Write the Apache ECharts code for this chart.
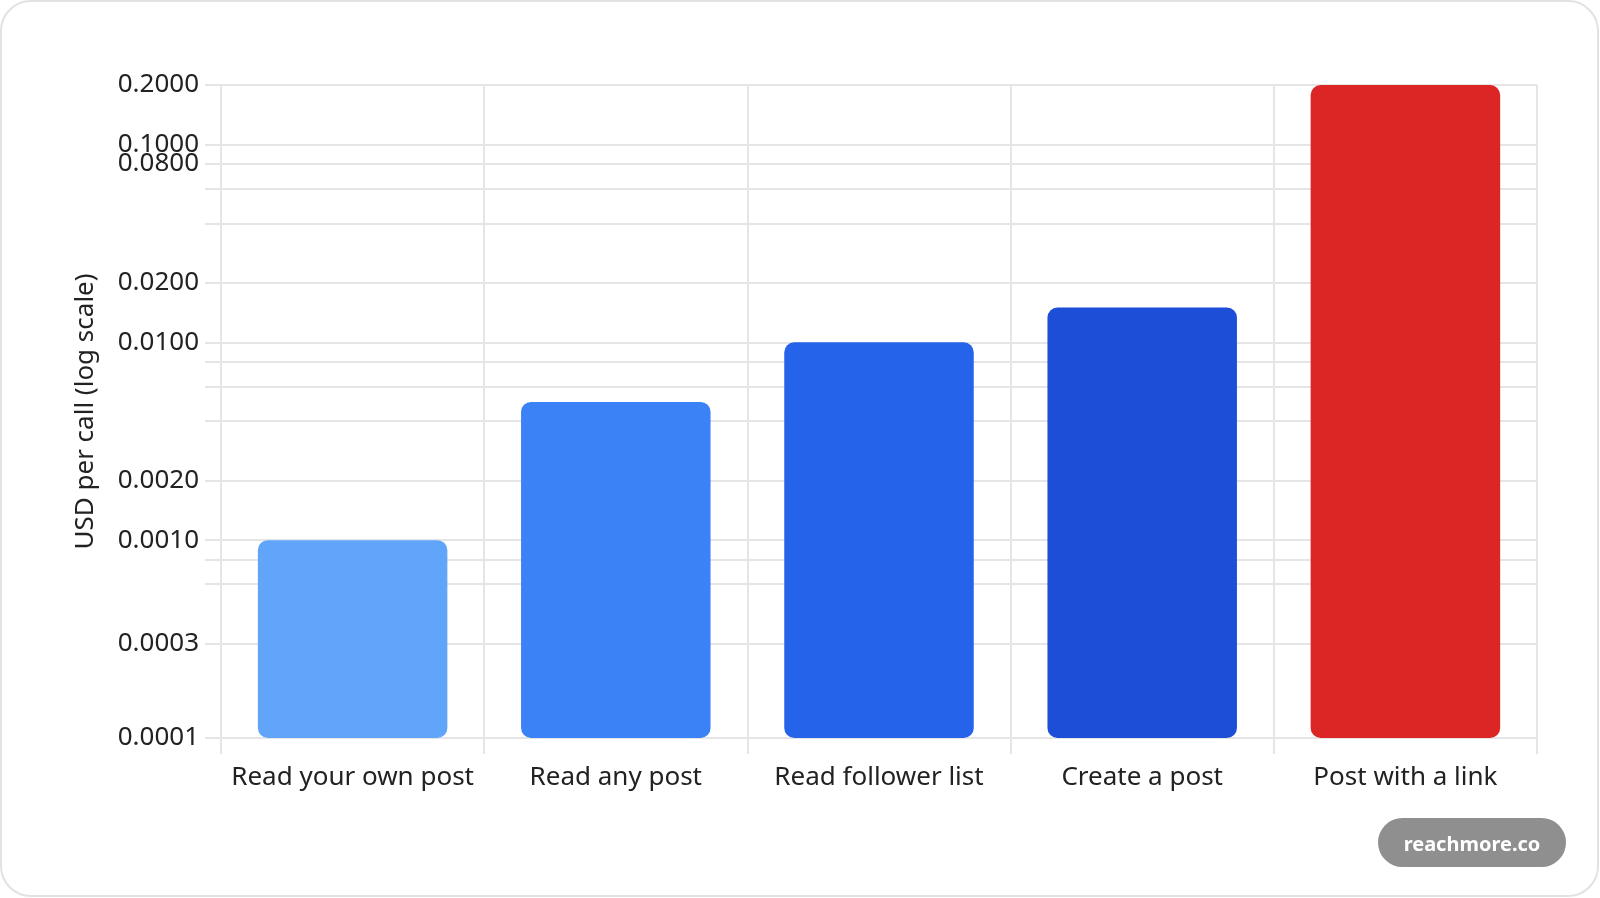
<!DOCTYPE html>
<html>
<head>
<meta charset="utf-8">
<script src="https://cdn.jsdelivr.net/npm/echarts@6/dist/echarts.min.js"></script>
<style>
  html, body { margin: 0; padding: 0; background: #fff; }
  #chart { width: 1600px; height: 898px; }
</style>
</head>
<body>
<div id="chart"></div>
<script>
// 数据
var categories = ['Read your own post', 'Read any post', 'Read follower list', 'Create a post', 'Post with a link'];
var costs = [0.001, 0.005, 0.01, 0.015, 0.2];
var barColors = ['#60a5fa', '#3b82f6', '#2563eb', '#1d4ed8', '#dc2626'];
// 网格线与刻度标签
var gridValues = [0.0001, 0.0003, 0.0006, 0.0008, 0.001, 0.002, 0.004, 0.006, 0.008, 0.01, 0.02, 0.04, 0.06, 0.08, 0.1, 0.2];
var labelValues = [0.0001, 0.0003, 0.001, 0.002, 0.01, 0.02, 0.08, 0.1, 0.2];
var yMin = 0.0001;
var yMax = 0.2;

var font = '"Noto Sans", "Open Sans", sans-serif';
var gridColor = '#e5e5e5';

var chart = echarts.init(document.getElementById('chart'));

// 对数轴上的柱子从最小值开始画（ECharts 默认从 1 开始）
function renderBar(params, api) {
    var idx = api.value(0);
    var top = api.coord([idx, api.value(1)]);
    var base = api.coord([idx, yMin]);
    var w = api.size([1, 0])[0] * 0.72;
    return {
        type: 'rect',
        shape: {
            x: top[0] - w / 2,
            y: top[1],
            width: w,
            height: base[1] - top[1],
            r: 10
        },
        style: { fill: barColors[idx] }
    };
}

var option = {
    backgroundColor: '#fff',
    animation: false,
    grid: {
        left: 221,
        right: 63,
        top: 85,
        bottom: 160
    },
    xAxis: {
        type: 'category',
        data: categories,
        axisLine: { show: true, lineStyle: { color: gridColor, width: 2 } },
        axisTick: { show: true, interval: 0, length: 16, lineStyle: { color: gridColor, width: 2 } },
        splitLine: { show: true, interval: 0, lineStyle: { color: gridColor, width: 2 } },
        axisLabel: {
            interval: 0,
            color: '#222',
            fontFamily: font,
            fontSize: 26,
            margin: 27
        }
    },
    yAxis: {
        type: 'log',
        logBase: 10,
        min: yMin,
        max: yMax,
        name: 'USD per call (log scale)',
        nameLocation: 'middle',
        nameGap: 122,
        nameTextStyle: {
            color: '#222',
            fontFamily: font,
            fontSize: 26
        },
        axisLine: { show: true, lineStyle: { color: gridColor, width: 2 } },
        axisTick: {
            show: true,
            length: 16,
            customValues: gridValues,
            lineStyle: { color: gridColor, width: 2 }
        },
        splitLine: { show: true, lineStyle: { color: gridColor, width: 2 } },
        axisLabel: {
            customValues: labelValues,
            color: '#222',
            fontFamily: font,
            fontSize: 26,
            margin: 22,
            formatter: function (v) { return Number(v).toFixed(4); }
        }
    },
    series: [{
        type: 'custom',
        renderItem: renderBar,
        encode: { x: 0, y: 1 },
        data: costs.map(function (v, i) { return [i, v]; })
    }],
    graphic: [
        {
            type: 'rect',
            silent: true,
            shape: { x: 1, y: 1, width: 1597, height: 895, r: 30 },
            style: { fill: 'none', stroke: '#e2e2e2', lineWidth: 2 }
        },
        {
            type: 'group',
            left: 1378,
            top: 818,
            children: [
                {
                    type: 'rect',
                    shape: { x: 0, y: 0, width: 188, height: 49, r: 24.5 },
                    style: { fill: '#8f8f8f' }
                },
                {
                    type: 'text',
                    x: 94,
                    y: 27,
                    style: {
                        text: 'reachmore.co',
                        fill: '#fff',
                        font: 'bold 20px ' + font,
                        textAlign: 'center',
                        textVerticalAlign: 'middle'
                    }
                }
            ]
        }
    ]
};

chart.setOption(option);
window.addEventListener('resize', function () {
    chart.resize();
});
</script>
</body>
</html>
